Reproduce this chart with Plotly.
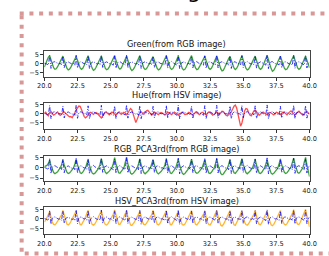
import plotly.graph_objects as go
from plotly.subplots import make_subplots

# ---------------- data (sampled every 0.1 s, starting at 20.0 s) ----------------
t_start = 20.0
dt = 0.1

ecg_ref = [
    0.2, 0.1, -0.3, -0.9,
    4.6, -2.8, 0.3, 0.9, 1.1, 0.6, 0.1, -0.2, 0.2, -0.8,
    4.2, -2.4, 0.2, 0.8, 1.0, 0.5, 0.0, -0.3, 0.1, -0.9,
    4.8, -2.6, 0.4, 1.0, 0.9, 0.4, -0.1, 0.2, -0.7,
    4.4, -2.9, 0.1, 0.9, 1.2, 0.6, 0.0, -0.3, 0.2, -0.8,
    4.7, -2.2, 0.3, 0.8, 1.0, 0.5, -0.1, 0.1, -0.2, -0.9,
    4.3, -2.7, 0.2, 1.0, 1.1, 0.4, 0.0, -0.2, -0.8,
    4.9, -2.5, 0.3, 0.9, 1.0, 0.5, 0.1, -0.3, 0.1, -0.9,
    4.5, -2.8, 0.2, 0.8, 1.1, 0.6, 0.0, -0.2, 0.2, -0.7,
    4.1, -2.3, 0.4, 1.0, 0.9, 0.4, -0.1, 0.1, -0.2, -0.8,
    4.6, -2.6, 0.3, 0.9, 1.2, 0.5, 0.0, -0.3, -0.9,
    4.8, -2.9, 0.1, 0.8, 1.0, 0.6, 0.1, -0.2, 0.2, -0.8,
    4.2, -2.4, 0.3, 1.0, 1.1, 0.4, -0.1, 0.2, -0.2, -0.9,
    4.5, -2.7, 0.2, 0.9, 1.0, 0.5, 0.0, -0.3, -0.8,
    4.7, -2.5, 0.4, 0.8, 1.1, 0.6, 0.1, -0.2, 0.1, -0.9,
    4.3, -2.8, 0.2, 1.0, 0.9, 0.4, -0.1, 0.1, -0.8,
    4.6, -2.3, 0.3, 0.9, 1.2, 0.5, 0.0, -0.3, 0.2, -0.7,
    4.4, -2.6, 0.1, 0.8, 1.0, 0.6, 0.0, -0.2, -0.9,
    4.9, -2.9, 0.3, 1.0, 1.1, 0.4, -0.1, 0.2, -0.2, -0.8,
    4.2, -2.4, 0.2, 0.9, 1.0, 0.5, 0.1, -0.3, 0.1, -0.9,
    4.7, -2.7, 0.4, 0.8, 1.1, 0.6, 0.0, -0.2, -0.8,
    4.5, -2.5, 0.3, 0.8,
]

green_rgb = [
    -2.0, -0.5, 1.8, 3.6,
    4.6, 2.2, -0.6, -2.4, -3.3, -3.0, -1.8, -0.2, 1.3, 3.0,
    4.3, 1.8, -0.8, -2.7, -3.6, -3.2, -2.0, -0.4, 1.1, 2.8,
    4.0, 1.9, -0.5, -2.5, -3.3, -2.7, -1.1, 0.7, 2.7,
    4.5, 2.1, -0.7, -2.6, -3.9, -3.4, -2.1, -0.3, 1.2, 2.9,
    4.4, 1.7, -0.9, -2.8, -3.5, -3.1, -1.9, -0.1, 1.4, 3.1,
    4.7, 2.0, -0.4, -2.4, -3.2, -2.6, -1.0, 0.8, 2.8,
    4.2, 1.9, -0.8, -2.9, -4.0, -3.5, -2.2, -0.4, 1.2, 2.9,
    4.6, 2.2, -0.6, -2.5, -3.4, -3.0, -1.7, -0.1, 1.3, 3.0,
    4.0, 1.8, -0.7, -2.7, -3.6, -3.2, -2.0, -0.3, 1.1, 2.8,
    4.5, 2.1, -0.5, -2.6, -3.4, -2.8, -1.2, 0.6, 2.6,
    4.3, 1.9, -0.8, -2.8, -3.7, -3.3, -2.0, -0.2, 1.3, 3.0,
    4.6, 2.0, -0.6, -2.5, -3.5, -3.1, -1.8, -0.3, 1.2, 2.9,
    4.2, 1.8, -0.6, -2.6, -3.3, -2.7, -1.1, 0.7, 2.7,
    4.4, 2.1, -0.7, -2.9, -4.2, -3.8, -2.3, -0.4, 1.2, 2.9,
    4.1, 1.9, -0.5, -2.5, -3.4, -2.8, -1.2, 0.6, 2.6,
    4.5, 2.0, -0.8, -2.7, -3.6, -3.2, -1.9, -0.3, 1.2, 2.9,
    4.3, 1.8, -0.6, -2.6, -3.3, -2.7, -1.0, 0.8, 2.8,
    4.7, 2.2, -0.7, -2.9, -4.4, -3.9, -2.4, -0.5, 1.1, 2.8,
    4.2, 1.9, -0.6, -2.6, -3.5, -3.1, -1.8, -0.2, 1.3, 3.0,
    4.5, 2.0, -0.5, -2.5, -3.3, -2.7, -1.1, 0.7, 2.7,
    4.3, 2.0, -0.6, -2.4,
]

hue_hsv = [
    0.3, 0.8, -0.5, -1.2, 0.6, 1.2, 0.2, -0.8, -0.3, 0.5,
    0.9, -0.2, -1.0, -0.4, 0.7, 1.0, 0.1, -0.6, -1.2, -1.8,
    -1.6, -2.3, -1.2, 0.5, 2.2, 3.6, 4.3, 4.1, 2.6, 0.5,
    -1.5, -2.4, -1.8, -0.5, 0.4, 0.8, 0.2, -0.4, 0.3, 0.7,
    0.1, -0.9, -2.0, -2.4, -1.3, 0.2, 0.9, 0.6, -0.2, -0.6,
    0.2, 0.9, 0.4, -0.5, -0.8, 0.1, 0.7, 0.3, -0.4, 0.2,
    0.8, 0.3, -0.6, 0.4, 1.8, 2.9, 2.2, -0.5, -3.5, -5.0,
    -3.2, -0.8, 0.6, 1.0, 0.3, -0.4, 0.5, 1.6, 1.9, 0.8,
    -0.3, -0.8, 0.2, 0.9, 0.5, -0.3, -0.6, 0.2, 0.7, 0.3,
    -0.4, -0.7, 0.1, 0.8, 0.6, -0.2, -0.5, 0.3, 0.9, 0.4,
    -0.3, -0.8, -0.2, 0.6, 0.9, 0.2, -0.5, -0.4, 0.4, 0.8,
    0.3, -0.6, -0.9, 0.1, 0.7, 0.5, -0.3, -0.6, 0.2, 0.8,
    0.4, -0.4, -0.7, 0.2, 0.9, 0.6, -0.2, -0.8, -0.3, 0.5,
    1.0, 0.4, -0.5, 0.3, 1.4, 1.2, 0.0, -0.9, -1.2, 0.2,
    -0.3, 0.8, 2.6, 4.2, 4.8, 3.3, 0.2, -4.0, -7.0, -5.2,
    -1.5, 1.5, 2.9, 2.6, 0.8, -0.8, -1.2, 0.2, 1.5, 2.1,
    1.2, -0.3, -0.9, -0.2, 0.6, 0.9, 0.3, -0.4, -0.6, 0.2,
    0.7, 0.4, -0.3, -0.7, 0.1, 0.8, 0.5, -0.2, -0.5, 0.3,
    0.9, 0.6, -0.2, -0.6, 0.3, 1.2, 1.6, 0.7, -0.4, -0.8,
    0.1, 1.1, 1.4, 0.5, -0.5, -0.9, 0.0, 0.9, 1.3, 0.4,
    -0.3,
]

rgb_pca3 = [
    0.6, 0.9, 1.2, 2.2,
    3.6, 1.2, -1.1, -2.3, -2.9, -2.6, -1.9, -0.9, -0.1, 1.6,
    3.9, 1.4, -0.9, -2.1, -2.8, -2.5, -1.7, -0.8, 0.0, 1.9,
    4.3, 1.6, -1.0, -2.4, -2.7, -2.1, -1.0, -0.1, 2.0,
    4.0, 1.3, -1.2, -2.5, -3.0, -2.7, -1.9, -1.0, -0.2, 1.8,
    4.6, 1.7, -0.9, -2.2, -2.8, -2.4, -1.6, -0.7, 0.1, 2.2,
    5.0, 1.9, -1.0, -2.4, -2.6, -2.0, -0.9, 0.0, 2.3,
    5.3, 2.0, -1.1, -2.6, -3.1, -2.7, -1.8, -0.9, -0.1, 1.9,
    4.4, 1.5, -1.0, -2.3, -2.9, -2.5, -1.7, -0.8, 0.0, 2.0,
    4.1, 1.4, -1.2, -2.4, -3.0, -2.6, -1.8, -0.9, -0.1, 1.7,
    4.5, 1.6, -1.0, -2.5, -2.8, -2.1, -1.0, -0.1, 2.1,
    4.2, 1.5, -1.1, -2.6, -3.2, -2.8, -1.9, -1.0, -0.2, 1.8,
    4.3, 1.6, -0.9, -2.2, -2.7, -2.4, -1.6, -0.7, 0.1, 2.0,
    4.0, 1.3, -1.1, -2.5, -2.8, -2.2, -1.1, -0.1, 1.9,
    4.4, 1.5, -1.2, -2.7, -3.4, -3.0, -2.0, -1.0, -0.2, 1.7,
    4.1, 1.4, -1.0, -2.4, -2.7, -2.1, -1.0, 0.0, 2.0,
    4.5, 1.7, -1.0, -2.3, -2.9, -2.5, -1.7, -0.8, 0.0, 2.1,
    4.2, 1.4, -1.1, -2.5, -2.8, -2.2, -1.1, -0.1, 1.8,
    4.0, 1.3, -1.2, -2.6, -3.1, -2.7, -1.8, -0.9, -0.1, 1.9,
    4.4, 1.6, -0.9, -2.2, -2.8, -2.4, -1.5, -0.6, 0.4, 2.6,
    4.8, 1.8, -1.0, -2.3, -2.6, -2.0, -0.9, 0.1, 2.8,
    5.2, 1.5, -2.0, -4.3,
]

hsv_pca3 = [
    -1.5, -0.8, 0.8, 2.6,
    3.8, 1.0, -1.8, -2.9, -3.1, -2.4, -1.2, 0.2, 1.0, 2.2,
    4.5, 1.6, -1.5, -2.8, -3.2, -2.6, -1.4, 0.0, 0.9, 2.4,
    4.2, 1.2, -1.7, -3.0, -3.1, -2.0, -0.5, 1.0, 2.6,
    4.6, 1.4, -1.6, -2.9, -3.3, -2.7, -1.5, -0.1, 0.8, 2.3,
    4.3, 1.3, -1.8, -3.0, -3.2, -2.5, -1.2, 0.3, 1.1, 2.5,
    4.8, 1.7, -1.4, -2.8, -3.0, -1.9, -0.4, 1.1, 2.7,
    4.4, 1.1, -1.9, -3.2, -3.5, -2.8, -1.6, -0.1, 0.9, 2.4,
    4.1, 1.2, -1.6, -2.9, -3.1, -2.4, -1.2, 0.2, 1.0, 2.3,
    4.5, 1.5, -1.5, -2.8, -3.2, -2.6, -1.3, 0.1, 0.9, 2.5,
    4.3, 1.3, -1.7, -3.0, -3.1, -2.0, -0.5, 1.0, 2.6,
    4.0, 1.1, -1.8, -3.1, -3.3, -2.7, -1.4, 0.0, 0.8, 2.2,
    4.4, 1.4, -1.6, -2.9, -3.2, -2.5, -1.3, 0.2, 1.0, 2.4,
    4.2, 1.2, -1.8, -3.0, -3.2, -2.1, -0.6, 0.9, 2.5,
    4.6, 1.5, -1.7, -3.3, -3.8, -3.0, -1.6, -0.2, 0.8, 2.3,
    4.4, 1.3, -1.6, -3.1, -3.4, -2.2, -0.6, 0.9, 2.6,
    4.3, 1.2, -1.8, -3.0, -3.3, -2.6, -1.3, 0.1, 0.9, 2.4,
    4.5, 1.4, -1.6, -2.9, -3.1, -2.0, -0.5, 1.0, 2.5,
    4.2, 1.1, -1.9, -3.2, -3.6, -2.9, -1.5, -0.1, 0.8, 2.3,
    4.4, 1.3, -1.7, -2.9, -3.2, -2.5, -1.2, 0.3, 1.2, 2.8,
    4.9, 1.6, -1.5, -2.8, -3.0, -1.8, -0.2, 1.5, 3.2,
    5.1, 1.8, -1.5, -4.2,
]

titles = ["Green(from RGB image)", "Hue(from HSV image)",
          "RGB_PCA3rd(from RGB image)", "HSV_PCA3rd(from HSV image)"]
signals = [green_rgb, hue_hsv, rgb_pca3, hsv_pca3]
colors = ["rgba(0,128,0,0.75)", "rgba(255,0,0,0.7)", "rgba(0,128,0,0.75)", "rgba(255,165,0,0.8)"]
y_ranges = [[-7.5, 7.0], [-8.6, 6.1], [-6.4, 6.0], [-7.9, 6.2]]
x_ticks = [20.0, 22.5, 25.0, 27.5, 30.0, 32.5, 35.0, 37.5, 40.0]
y_ticks = [-5, 0, 5]

# ---------------- figure ----------------
W, H = 329, 256
fig = make_subplots(rows=4, cols=1)

def times(vals):
    return [t_start + dt * i for i in range(len(vals))]

for k, (sig, col) in enumerate(zip(signals, colors)):
    fig.add_trace(go.Scatter(x=times(sig), y=sig, mode="lines",
                             line=dict(color=col, width=1.3), hoverinfo="skip"),
                  row=k + 1, col=1)
    fig.add_trace(go.Scatter(x=times(ecg_ref), y=ecg_ref, mode="lines",
                             line=dict(color="rgba(0,0,255,0.85)", width=0.9,
                                       dash="4px,1.5px,1px,1.5px"),
                             hoverinfo="skip"),
                  row=k + 1, col=1)

# pixel boxes of the four axes (top, bottom)
boxes = [(50, 75.5), (102, 128.5), (155.5, 181), (207.7, 234.5)]
xl, xr = 39, 316
title_y = [42, 94.3, 149, 201.3]

font = "DejaVu Sans"
for k, (top, bot) in enumerate(boxes):
    xa = "xaxis" if k == 0 else f"xaxis{k+1}"
    ya = "yaxis" if k == 0 else f"yaxis{k+1}"
    fig.layout[xa].update(
        domain=[xl / W, xr / W], range=[20, 40],
        tickvals=x_ticks, ticktext=[f"{v:.1f}" for v in x_ticks],
        ticks="outside", ticklen=3, tickwidth=0.8, tickcolor="#333",
        showline=True, mirror=True, linecolor="#444", linewidth=0.9,
        showgrid=False, zeroline=False,
        tickfont=dict(family=font, size=6.6, color="#222"),
    )
    fig.layout[ya].update(
        domain=[1 - bot / H, 1 - top / H], range=y_ranges[k],
        tickvals=y_ticks, ticktext=["\u22125", "0", "5"],
        ticks="outside", ticklen=3, tickwidth=0.8, tickcolor="#333",
        showline=True, mirror=True, linecolor="#444", linewidth=0.9,
        showgrid=False, zeroline=False,
        tickfont=dict(family=font, size=6.6, color="#222"),
    )
    fig.add_annotation(text=titles[k], xref="paper", yref="paper",
                       x=(xl + xr) / 2 / W, y=1 - title_y[k] / H,
                       xanchor="center", yanchor="middle", showarrow=False,
                       font=dict(family=font, size=8.2, color="#111"))

# cut-off caption letter at the very top (only its descender is visible)
fig.add_annotation(text="g", xref="paper", yref="paper", x=195 / W, y=1 - 3.5 / H,
                   xanchor="center", yanchor="bottom", showarrow=False,
                   font=dict(family=font, size=22, color="#000"))

# dotted pink frame around the figure
pink = "#d99898"
def px_line(x0, y0, x1, y1, dash):
    fig.add_shape(type="line", xref="paper", yref="paper",
                  x0=x0 / W, y0=1 - y0 / H, x1=x1 / W, y1=1 - y1 / H,
                  line=dict(color=pink, width=4, dash=dash))

px_line(13.3, 11.7, 340, 11.7, "4px,5.7px")
px_line(15.3, 13.5, 15.3, 256, "4px,5.3px")
px_line(18.5, 254.5, 340, 254.5, "4px,5.8px")

fig.update_layout(width=W, height=H, autosize=False, showlegend=False,
                  margin=dict(l=0, r=0, t=0, b=0),
                  paper_bgcolor="white", plot_bgcolor="white")

fig.write_html("out.html", config={"displayModeBar": False},
               post_script="document.body.style.margin='0';")
